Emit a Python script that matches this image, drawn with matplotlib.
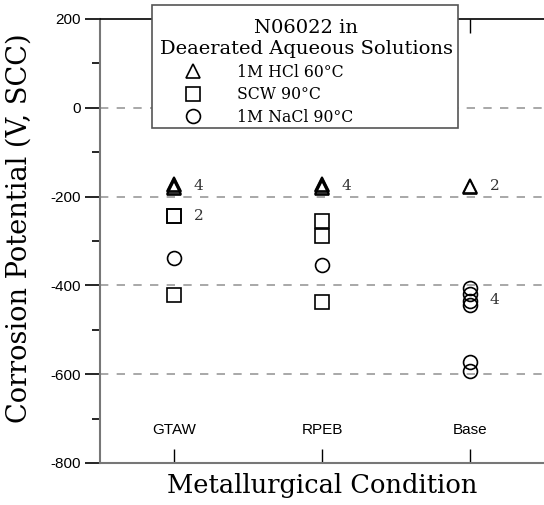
import matplotlib.pyplot as plt
from matplotlib.lines import Line2D
from matplotlib.patches import Rectangle

plt.rcParams["axes.unicode_minus"] = False

# data
conditions = ["GTAW", "RPEB", "Base"]
hcl_60 = [[-172, -175, -178, -180], [-172, -175, -178, -180], [-176, -178]]
scw_90 = [[-243, -243, -421], [-254, -288, -437], []]
nacl_90 = [[-338], [-354], [-405, -420, -435, -445, -573, -593]]
# count labels: (condition index, y value, text)
count_labels = [(0, -176, "4"), (0, -243, "2"), (1, -176, "4"), (2, -177, "2"), (2, -432, "4")]

serif = "DejaVu Serif"
sans = "Liberation Sans"

W, H = 544, 505
fig = plt.figure(figsize=(W / 100, H / 100), dpi=100)
ax = fig.add_axes([100 / W, 42 / H, 444 / W, 444 / H])

grid_kw = dict(color="#999999", lw=1.2, ls=(0, (5, 5)), zorder=0)
for yv in [0, -200, -400, -600]:
    ax.axhline(yv, **grid_kw)

mk = dict(ls="none", mfc="none", mec="black", mew=1.2, ms=10)
for i in range(len(conditions)):
    x = i + 1
    ax.plot([x] * len(hcl_60[i]), hcl_60[i], marker="^", **mk)
    ax.plot([x] * len(scw_90[i]), scw_90[i], marker="s", **mk)
    ax.plot([x] * len(nacl_90[i]), nacl_90[i], marker="o", **mk)

for ci, yv, t in count_labels:
    ax.annotate(t, (ci + 1, yv), xytext=(14, 0), textcoords="offset points",
                va="center", ha="left", fontsize=11, family=serif, color="#333333")

# category names sit inside the plot
for i, c in enumerate(conditions):
    ax.text(i + 1, -726, c, ha="center", va="center", fontsize=11, family=sans)

ax.set_xlim(0.5, 3.5)
ax.set_ylim(-800, 200)
ax.set_xticks([1, 2, 3])
ax.set_xticklabels([])
ax.tick_params(axis="x", which="both", direction="in", length=10, width=1, top=True)
ax.set_yticks(range(-800, 201, 200))
ax.set_yticks(range(-700, 200, 200), minor=True)
ax.tick_params(axis="y", which="major", direction="out", length=10.5, width=1.2, labelsize=11)
ax.tick_params(axis="y", which="minor", direction="out", length=6, width=1.2)
for lab in ax.get_yticklabels():
    lab.set_family(sans)

ax.spines["right"].set_visible(False)
ax.spines["left"].set_color("#777777")
ax.spines["bottom"].set_color("#777777")
ax.spines["left"].set_linewidth(1.5)
ax.spines["bottom"].set_linewidth(1.5)
ax.spines["top"].set_linewidth(1.2)

ax.set_ylabel("Corrosion Potential (V, SCC)", family=serif, fontsize=19.6)
ax.yaxis.set_label_coords(-0.151, 0.529)
ax.set_xlabel("Metallurgical Condition", family=serif, fontsize=18.5, labelpad=4)

# legend box drawn separately so the content can sit a bit lower in it
box = Rectangle((152 / W, 1 - 128 / H), 306 / W, 123 / H, transform=fig.transFigure,
                facecolor="white", edgecolor="#555555", lw=1.2, clip_on=False, zorder=4)
ax.add_patch(box)

handles = [Line2D([], [], marker=m, **mk) for m in ["^", "s", "o"]]
leg = ax.legend(handles, ["1M HCl 60°C", "SCW 90°C", "1M NaCl 90°C"],
                title="N06022 in\nDeaerated Aqueous Solutions",
                loc="upper left", bbox_to_anchor=(52 / 444, 1 + 7.5 / 444),
                frameon=False, prop={"family": serif, "size": 11.3},
                title_fontproperties={"family": serif, "size": 14},
                handlelength=4.2, handletextpad=0.7, borderpad=0.5, labelspacing=0.35,
                borderaxespad=0, alignment="left")
leg.get_title().set_multialignment("center")
leg.set_zorder(5)

fig.savefig("out.png", dpi=100)
